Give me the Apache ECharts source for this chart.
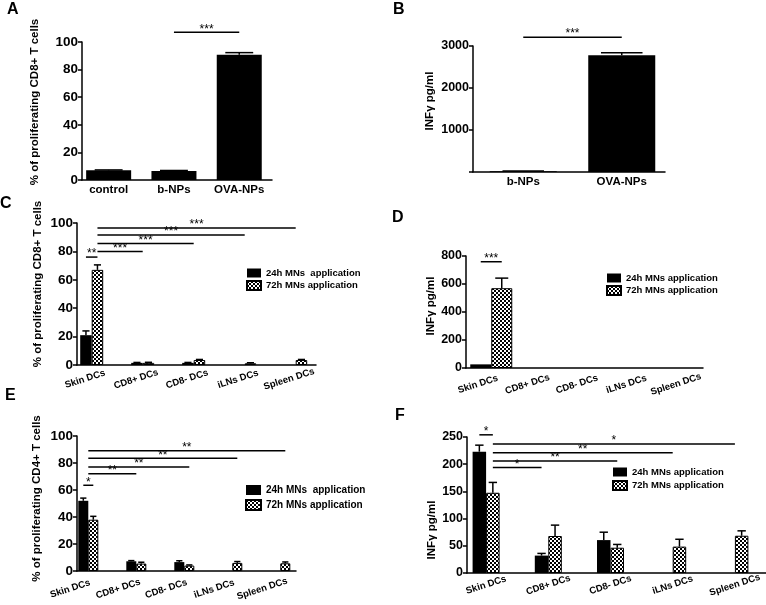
<!DOCTYPE html>
<html><head><meta charset="utf-8">
<script src="https://cdn.jsdelivr.net/npm/echarts@6/dist/echarts.min.js"></script>
<style>html,body{margin:0;padding:0;background:#fff}#c{width:766px;height:605px}</style>
</head><body><div id="c"></div>
<script>
// ---------------- data ----------------
const catsA = ['control', 'b-NPs', 'OVA-NPs'];
const valsA = [7, 6.6, 90.8];
const errA = [0.3, 0.3, 1.5];
const sigA = [[1, 0, 2, 0, 107, '***']];

const catsB = ['b-NPs', 'OVA-NPs'];
const valsB = [20, 2780];
const errB = [5, 60];
const sigB = [[0, 0, 1, 0, 3210, '***']];

const catsDC = ['Skin DCs', 'CD8+ DCs', 'CD8- DCs', 'iLNs DCs', 'Spleen DCs'];

const c24 = [21, 1.5, 1.5, null, null];
const c24err = [3, 0.3, 0.3, null, null];
const c72 = [67, 1.5, 3.5, 1.2, 3.5];
const c72err = [3.5, 0.4, 0.4, 0.4, 0.4];
const sigC = [[0, -1, 0, 1, 76, '**'], [0, 1, 1, 0, 80, '***'], [0, 1, 2, 0, 85.5, '***'], [0, 1, 3, 0, 91.5, '***'], [0, 1, 4, 0, 96.5, '***']];

const d24 = [26, null, null, null, null];
const d24err = [0, null, null, null, null];
const d72 = [570, null, null, null, null];
const d72err = [72, null, null, null, null];
const sigD = [[0, -1, 0, 1, 759, '***']];

const e24 = [52, 7.2, 6.6, null, null];
const e24err = [2, 0.5, 1, null, null];
const e72 = [38, 5.5, 4, 6, 5.7];
const e72err = [2.5, 1, 0.5, 1, 1];
const sigE = [[0, -1, 0, 1, 63.5, '*'], [0, 0, 1, 0, 72, '**'], [0, 0, 2, 1, 77, '**'], [0, 0, 3, 1, 83.5, '**'], [0, 0, 4, 1, 89, '**']];

const f24 = [223, 32, 60.5, null, null];
const f24err = [12, 4, 14.5, null, null];
const f72 = [147.5, 68, 46.5, 48.5, 68.5];
const f72err = [19, 20, 6, 13.5, 9];
const sigF = [[0, -1, 0, 1, 254, '*'], [0, 1, 1, -1, 194, '*'], [0, 1, 2, 1, 206, '**'], [0, 1, 3, 0, 221, '**'], [0, 1, 4, 0, 237, '*']];

const name24a = '24h MNs  application';
const name24b = '24h MNs application';
const name72 = '72h MNs application';

// ---------------- styling ----------------
const FONT = '"Liberation Sans", Arial, Helvetica, sans-serif';
function makePattern() {
  const c = document.createElement('canvas'); c.width = 4; c.height = 4;
  const g = c.getContext('2d');
  g.fillStyle = '#fff'; g.fillRect(0, 0, 4, 4);
  g.fillStyle = '#000'; g.fillRect(0, 0, 2, 2); g.fillRect(2, 2, 2, 2);
  return c;
}
const PAT = { image: makePattern(), repeat: 'repeat' };

const panels = [
  { letter: 'A', lx: 7, ly: 2, yX: 82, top: 42, bot: 180, xEnd: 272, barLeft: 76, band: 65.3, bw: 45,
    yMax: 100, yInt: 20, yFont: 13.5, name: '% of proliferating CD8+ T cells', nameGap: 41, nameShift: 9,
    cats: catsA, series: [{ name: 'A', vals: valsA, err: errA, pat: false, off: 0 }], sig: sigA,
    catRotate: 0, catFont: 11.5, catMargin: 4, catPad: 0, hideZero: false, legend: null },
  { letter: 'B', lx: 393, ly: 2, yX: 473, top: 46, bot: 172, xEnd: 665, barLeft: 474, band: 98.5, bw: 67,
    yMax: 3000, yInt: 1000, yFont: 12.5, name: 'INFγ pg/ml', nameGap: 37, nameShift: 8,
    cats: catsB, series: [{ name: 'B', vals: valsB, err: errB, pat: false, off: 0 }], sig: sigB,
    catRotate: 0, catFont: 11.5, catMargin: 4, catPad: 0, hideZero: true, legend: null },
  { letter: 'C', lx: 0, ly: 196, yX: 77, top: 223, bot: 365, xEnd: 316, barLeft: 66.2, band: 51, bw: 11.5,
    yMax: 100, yInt: 20, yFont: 13.5, name: '% of proliferating CD8+ T cells', nameGap: 33, nameShift: 10,
    cats: catsDC, series: [{ name: name24a, vals: c24, err: c24err, pat: false, off: -1 }, { name: name72, vals: c72, err: c72err, pat: true, off: 1 }], sig: sigC,
    catRotate: 18, catFont: 9.5, catMargin: 12, catPad: 14, hideZero: false,
    legend: { left: 246, top: 268, w: 14, h: 9, gap: 2, font: 9.5, names: [name24a, name72] } },
  { letter: 'D', lx: 392, ly: 210, yX: 466, top: 256, bot: 368, xEnd: 703, barLeft: 466.5, band: 49.5, bw: 21,
    yMax: 800, yInt: 200, yFont: 12.5, name: 'INFγ pg/ml', nameGap: 27, nameShift: 6,
    cats: catsDC, series: [{ name: name24b, vals: d24, err: d24err, pat: false, off: -1 }, { name: name72, vals: d72, err: d72err, pat: true, off: 1 }], sig: sigD,
    catRotate: 18, catFont: 9.5, catMargin: 12, catPad: 28, hideZero: false,
    legend: { left: 606, top: 273, w: 14, h: 9, gap: 2, font: 9.5, names: [name24b, name72] } },
  { letter: 'E', lx: 5, ly: 388, yX: 77, top: 436, bot: 571, xEnd: 296, barLeft: 64.3, band: 48, bw: 10,
    yMax: 100, yInt: 20, yFont: 13.5, name: '% of proliferating CD4+ T cells', nameGap: 34, nameShift: 5,
    cats: catsDC, series: [{ name: name24a, vals: e24, err: e24err, pat: false, off: -1 }, { name: name72, vals: e72, err: e72err, pat: true, off: 1 }], sig: sigE,
    catRotate: 18, catFont: 9.5, catMargin: 12, catPad: 38, hideZero: false,
    legend: { left: 245, top: 485, w: 15, h: 10, gap: 4, font: 10, names: [name24a, name72] } },
  { letter: 'F', lx: 395, ly: 408, yX: 467, top: 437, bot: 573, xEnd: 766, barLeft: 455, band: 64, bw: 13.5,
    yMax: 250, yInt: 50, yFont: 12.5, name: 'INFγ pg/ml', nameGap: 25, nameShift: -25,
    cats: catsDC, series: [{ name: name24b, vals: f24, err: f24err, pat: false, off: -1 }, { name: name72, vals: f72, err: f72err, pat: true, off: 1 }], sig: sigF,
    catRotate: 18, catFont: 9.5, catMargin: 12, catPad: 0, hideZero: false,
    legend: { left: 612, top: 467, w: 14, h: 9, gap: 3, font: 9.5, names: [name24b, name72] } }
];

const grids = [], xAxes = [], yAxes = [], series = [], legends = [], titles = [];
const axisLineStyle = { color: '#000', width: 1.5 };

panels.forEach(p => {
  const h = p.bot - p.top;
  // visible axes grid
  const gi = grids.length;
  grids.push({ left: p.yX, top: p.top, width: p.xEnd - p.yX, height: h });
  xAxes.push({ gridIndex: gi, type: 'value', min: 0, max: 1, axisLine: { show: true, lineStyle: axisLineStyle },
    axisTick: { show: false }, axisLabel: { show: false }, splitLine: { show: false } });
  const nameShift = p.nameShift;
  yAxes.push({ gridIndex: gi, type: 'value', min: 0, max: p.yMax, interval: p.yInt,
    axisLine: { show: true, lineStyle: axisLineStyle },
    axisTick: { show: true, length: 4, lineStyle: axisLineStyle },
    splitLine: { show: false },
    axisLabel: { color: '#000', fontFamily: FONT, fontWeight: 'bold', fontSize: p.yFont, margin: 4,
      formatter: v => (p.hideZero && v === 0) ? '' : String(v) },
    name: p.name, nameLocation: 'middle', nameGap: p.nameGap,
    nameTextStyle: { color: '#000', fontFamily: FONT, fontWeight: 'bold', fontSize: 11.5,
      padding: nameShift >= 0 ? [0, 0, 0, 2 * nameShift] : [0, -2 * nameShift, 0, 0] } });
  // bars grid
  const bi = grids.length;
  grids.push({ left: p.barLeft, top: p.top, width: p.band * p.cats.length, height: h });
  const catLabel = { color: '#000', fontFamily: FONT, fontWeight: 'bold', fontSize: p.catFont,
    margin: p.catMargin, rotate: p.catRotate, interval: 0 };
  if (p.catRotate) { catLabel.align = 'center'; catLabel.padding = [0, p.catPad, 0, 0]; }
  xAxes.push({ gridIndex: bi, type: 'category', data: p.cats, axisLine: { show: false }, axisTick: { show: false },
    axisLabel: catLabel });
  yAxes.push({ gridIndex: bi, type: 'value', min: 0, max: p.yMax, show: false });
  const bx = xAxes.length - 1, by = yAxes.length - 1;

  p.series.forEach(s => {
    series.push({ type: 'bar', name: s.name, xAxisIndex: bx, yAxisIndex: by, data: s.vals,
      barWidth: p.bw, barGap: '0%', silent: true,
      itemStyle: s.pat ? { color: PAT, borderColor: '#000', borderWidth: 1 } : { color: '#000', borderColor: '#000', borderWidth: 0 } });
    const ed = [];
    s.vals.forEach((v, i) => { if (v != null && s.err[i]) ed.push([i, v, s.err[i]]); });
    const off = s.off * p.bw / 2, cw = p.bw * 0.62;
    series.push({ type: 'custom', xAxisIndex: bx, yAxisIndex: by, clip: false, silent: true, data: ed, z: 3,
      renderItem: (params, api) => {
        const a = api.coord([api.value(0), api.value(1)]);
        const b = api.coord([api.value(0), api.value(1) + api.value(2)]);
        const x = a[0] + off;
        const st = { stroke: '#000', lineWidth: 1.5 };
        return { type: 'group', children: [
          { type: 'line', shape: { x1: x, y1: a[1], x2: x, y2: b[1] }, style: st },
          { type: 'line', shape: { x1: x - cw / 2, y1: b[1], x2: x + cw / 2, y2: b[1] }, style: st }] };
      } });
  });
  // significance lines
  const sig = p.sig;
  series.push({ type: 'custom', xAxisIndex: bx, yAxisIndex: by, clip: false, silent: true, z: 4,
    data: sig.map(s => [s[0], s[4]]),
    renderItem: (params, api) => {
      const s = sig[params.dataIndex];
      const a = api.coord([s[0], s[4]]), b = api.coord([s[2], s[4]]);
      const x1 = a[0] + s[1] * p.bw / 2, x2 = b[0] + s[3] * p.bw / 2;
      return { type: 'group', children: [
        { type: 'line', shape: { x1: x1, y1: a[1], x2: x2, y2: a[1] }, style: { stroke: '#000', lineWidth: 1.5 } },
        { type: 'text', x: (x1 + x2) / 2, y: a[1] + 3,
          style: { text: s[5], fill: '#000', font: '12px ' + FONT, align: 'center', verticalAlign: 'bottom' } }] };
    } });
  if (p.legend) {
    const L = p.legend;
    legends.push({ left: L.left, top: L.top, orient: 'vertical', itemWidth: L.w, itemHeight: L.h, itemGap: L.gap,
      padding: 0, icon: 'rect', selectedMode: false, data: L.names,
      textStyle: { color: '#000', fontFamily: FONT, fontWeight: 'bold', fontSize: L.font } });
  }
  titles.push({ text: p.letter, left: p.lx, top: p.ly, padding: 0,
    textStyle: { color: '#000', fontFamily: FONT, fontWeight: 'bold', fontSize: 16 } });
});

const chart = echarts.init(document.getElementById('c'), null, { renderer: 'canvas' });
chart.setOption({ animation: false, backgroundColor: '#fff', title: titles, legend: legends,
  grid: grids, xAxis: xAxes, yAxis: yAxes, series: series });
</script></body></html>
